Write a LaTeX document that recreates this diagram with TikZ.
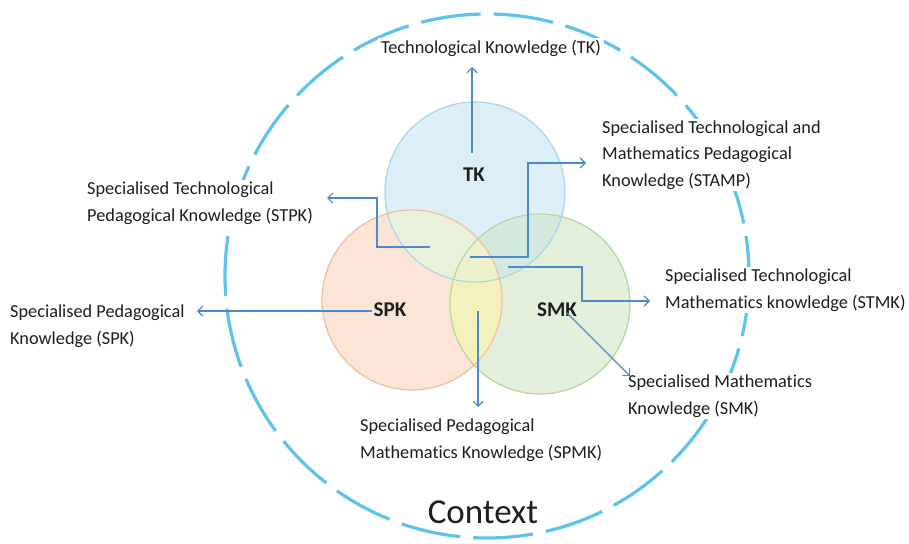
\documentclass[tikz,border=0pt]{standalone}
\usepackage{fontspec}
\setmainfont[Ligatures={NoCommon}]{Carlito}
\usetikzlibrary{arrows.meta}
\definecolor{tkonly}{HTML}{DCEEF8}
\definecolor{spkonly}{HTML}{FCE4D6}
\definecolor{smkonly}{HTML}{E3EFDA}
\definecolor{tkspk}{HTML}{E9F1DC}
\definecolor{tksmk}{HTML}{D5EADF}
\definecolor{spksmk}{HTML}{F5F1BC}
\definecolor{allthree}{HTML}{ECF1CC}
\definecolor{tkb}{HTML}{A9D7EA}
\definecolor{spkb}{HTML}{F4BE9C}
\definecolor{smkb}{HTML}{B5D6A0}
\definecolor{ringc}{HTML}{5EC3EA}
\definecolor{arrc}{HTML}{4C8AD0}
\definecolor{txtc}{HTML}{1E1E1E}
\def\tkc{(475,192) circle[radius=90pt]}
\def\spkc{(412,300) circle[radius=90pt]}
\def\smkc{(540,304) circle[radius=90pt]}
\begin{document}
\begin{tikzpicture}[x=1pt,y=-1pt,
  lbl/.style={inner xsep=3pt, inner ysep=2pt, fill=white, align=left, text=txtc, font=\fontsize{18.3}{26.5}\selectfont},
  ctr/.style={inner sep=0pt, text=txtc, font=\fontsize{21}{22}\selectfont\bfseries},
  ven/.style={circle, minimum size=180pt, inner sep=0pt, line width=1.2pt},
  arr/.style={draw=arrc, line width=1.1pt, -{Straight Barb[length=5pt,width=10pt]}}]
\useasboundingbox (0,0) rectangle (909,543);
\fill[white] (0,0) rectangle (909,543);
% outer context ring
\node[circle, minimum size=524pt, inner sep=0pt, draw=ringc, line width=3.2pt,
      dash pattern=on 60pt off 13pt, dash phase=20pt] (ring) at (487,276) {};
% region fills
\fill[tkonly] \tkc;
\fill[spkonly] \spkc;
\fill[smkonly] \smkc;
\begin{scope}\clip \tkc; \fill[tkspk] \spkc; \fill[tksmk] \smkc; \end{scope}
\begin{scope}\clip \spkc; \fill[spksmk] \smkc; \end{scope}
\begin{scope}\clip \tkc; \clip \spkc; \fill[allthree] \smkc; \end{scope}
% circle outlines
\node[ven, draw=tkb] (tk) at (475,192) {};
\node[ven, draw=spkb] (spk) at (412,300) {};
\node[ven, draw=smkb] (smk) at (540,304) {};
% centre labels
\node[ctr] (ctk) at (474,175) {TK};
\node[ctr] (cspk) at (390,310) {SPK};
\node[ctr] (csmk) at (557,310) {SMK};
% outer labels
\node[lbl, anchor=center] (ltk) at (491,48) {Technological Knowledge (TK)};
\node[lbl, anchor=west] (lstamp) at (599,155) {Specialised Technological and\\Mathematics Pedagogical\\Knowledge (STAMP)};
\node[lbl, anchor=west] (lstpk) at (84,203) {Specialised Technological\\Pedagogical Knowledge (STPK)};
\node[lbl, anchor=west] (lspk) at (7,326) {Specialised Pedagogical\\Knowledge (SPK)};
\node[lbl, anchor=west] (lstmk) at (662,290) {Specialised Technological\\Mathematics knowledge (STMK)};
\node[lbl, anchor=west] (lsmk) at (625,396) {Specialised Mathematics\\Knowledge (SMK)};
\node[lbl, anchor=west] (lspmk) at (357,440) {Specialised Pedagogical\\Mathematics Knowledge (SPMK)};
\node[inner xsep=4pt, inner ysep=1pt, fill=white, text=txtc, font=\fontsize{35}{38}\selectfont] (ctx) at (483,512) {Context};
% arrow coordinates
\coordinate (s1) at (472,153); \coordinate (e1) at (472,67);
\coordinate (s2) at (430,247); \coordinate (e2) at (327,198);
\coordinate (s3) at (470,257); \coordinate (e3) at (586,163);
\coordinate (s4) at (508,267); \coordinate (e4) at (650,301);
\coordinate (s5) at (372,311); \coordinate (e5) at (197,311);
\coordinate (s6) at (478,311); \coordinate (e6) at (478,407);
\coordinate (s7) at (567,313); \coordinate (e7) at (630,376);
% arrows
\draw[arr] (s1) -- (e1);
\draw[arr] (s2) -- (377,247) -- (377,198) -- (e2);
\draw[arr] (s3) -- (528,257) -- (528,163) -- (e3);
\draw[arr] (s4) -- (582,267) -- (582,301) -- (e4);
\draw[arr] (s5) -- (e5);
\draw[arr] (s6) -- (e6);
\draw[arr] (s7) -- (e7);
\end{tikzpicture}
\end{document}
